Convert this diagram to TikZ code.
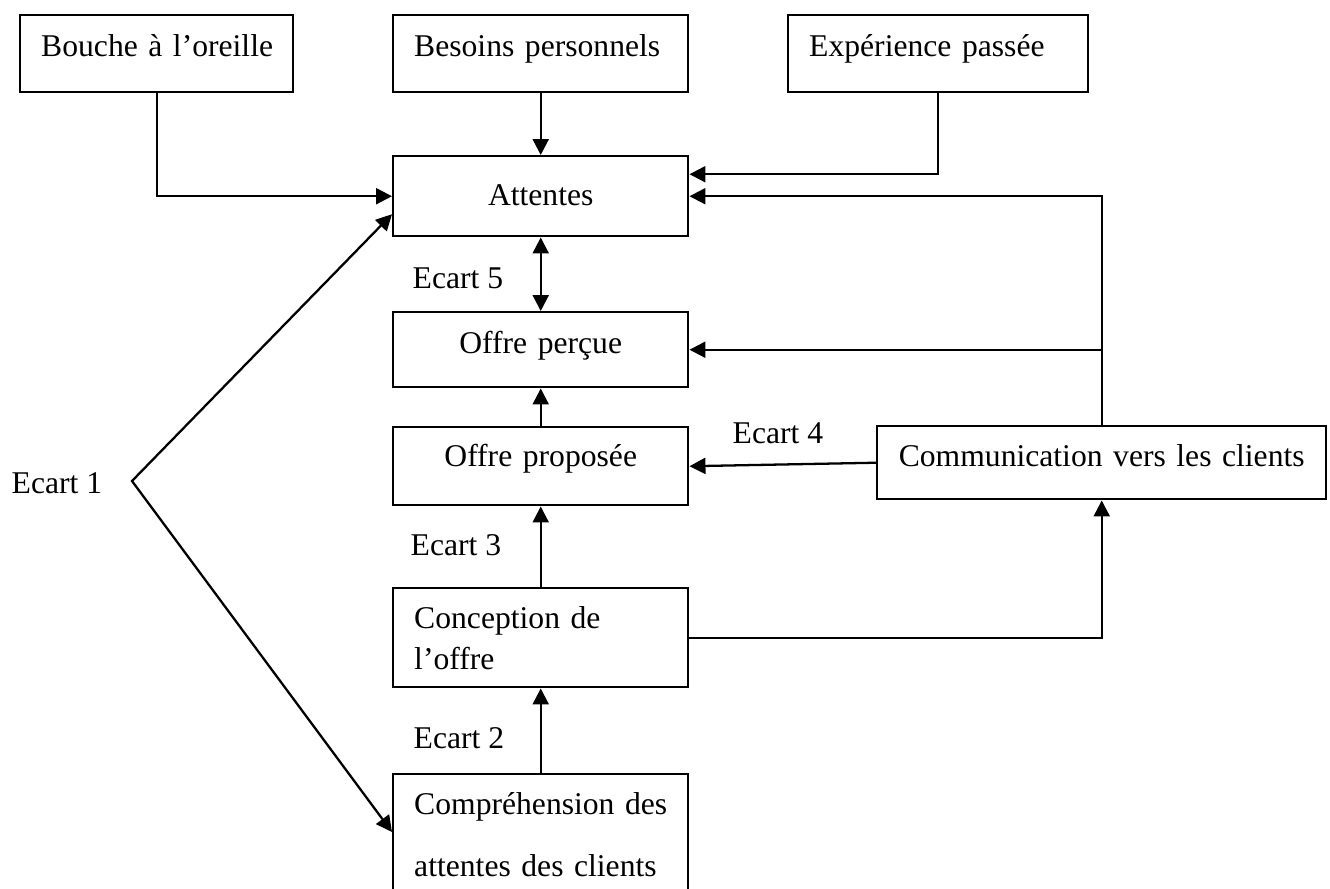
\documentclass[tikz,border=0pt]{standalone}
\usepackage{fontspec}
\setmainfont{Liberation Serif}
\usetikzlibrary{arrows.meta,positioning,calc}

\begin{document}
\begin{tikzpicture}[>={Triangle[length=1.6mm,width=1.6mm]},
  every node/.style={font=\fontsize{9pt}{11.7pt}\selectfont, inner sep=0pt},
  box/.style={draw, line width=0.7pt, anchor=north west, inner xsep=0.21cm, inner ysep=0pt},
  lbox/.style={box, align=left},
  cbox/.style={box, align=center},
  gaplabel/.style={anchor=base west},
  link/.style={->, line width=0.65pt}]
  \useasboundingbox (0,0) rectangle (13.3,-8.89);
  \clip (0,0) rectangle (13.3,-8.89);

  % Sources of expectations
  \node[lbox, text width=2.31cm, text height=0.41cm, text depth=0.36cm] (bouche) at (0.19,-0.14) {Bouche~à~l’oreille};
  \node[lbox, text width=2.53cm, text height=0.41cm, text depth=0.36cm] (besoins) at (3.92,-0.14) {Besoins~personnels};
  \node[lbox, text width=2.58cm, text height=0.41cm, text depth=0.36cm] (experience) at (7.87,-0.14) {Expérience~passée};

  % Central column
  \node[cbox, text width=2.53cm, text height=0.49cm, text depth=0.31cm] (attentes) at (3.92,-1.55) {Attentes};
  \node[cbox, text width=2.53cm, text height=0.41cm, text depth=0.34cm] (percue) at (3.92,-3.11) {Offre perçue};
  \node[cbox, text width=2.53cm, text height=0.39cm, text depth=0.39cm] (proposee) at (3.92,-4.26) {Offre proposée};
  \node[lbox, text width=2.53cm, text height=0.40cm, text depth=0.59cm] (conception) at (3.92,-5.87) {Conception de\\l’offre};
  \node[lbox, text width=2.53cm, text height=0.40cm, text depth=1.00cm] (comprehension) at (3.92,-7.73) {Compréhension~des\\[0.21cm]attentes des clients};
  \node[cbox, text width=4.07cm, text height=0.40cm, text depth=0.33cm] (comm) at (8.76,-4.25) {Communication~vers~les~clients};

  % Gaps
  \node[gaplabel] (ecart1) at (0.11,-4.93) {Ecart 1};
  \node[gaplabel] (ecart2) at (4.13,-7.48) {Ecart 2};
  \node[gaplabel] (ecart3) at (4.10,-5.55) {Ecart 3};
  \node[gaplabel] (ecart4) at (7.32,-4.43) {Ecart 4};
  \node[gaplabel] (ecart5) at (4.12,-2.88) {Ecart 5};
  \coordinate (pivot) at (1.32,-4.81);

  % Connectors
  \draw[link] (bouche.south) |- (attentes.west);
  \draw[link] (besoins) -- (attentes);
  \draw[link] (experience.south) |- ([yshift=0.22cm]attentes.east);
  \draw[link] (comm.north) |- (attentes.east);
  \draw[link] (comm.north |- percue.east) -- (percue.east);
  \draw[link] (comm.west) -- (proposee.east);
  \draw[link, <->] (attentes) -- (percue);
  \draw[link] (proposee) -- (percue);
  \draw[link] (conception) -- (proposee);
  \draw[link] (comprehension) -- (conception);
  \draw[link] (conception.east) -| (comm.south);
  \draw[link, <->] ([yshift=-0.18cm]attentes.west) -- (pivot) -- ([yshift=-0.59cm]comprehension.north west);
\end{tikzpicture}
\end{document}
